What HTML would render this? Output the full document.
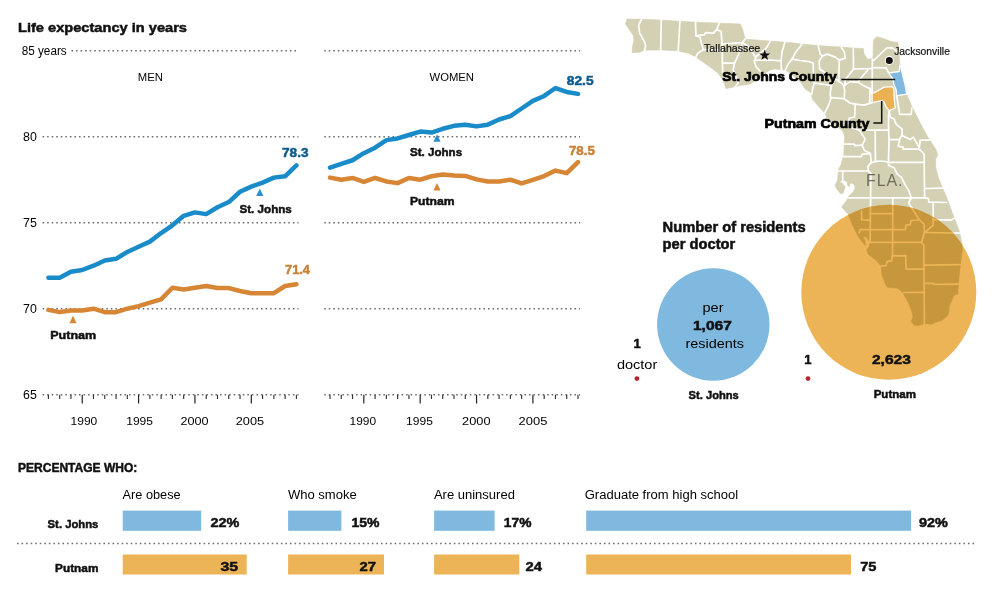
<!DOCTYPE html>
<html lang="en">
<head>
<meta charset="utf-8">
<title>Life expectancy in years: St. Johns County and Putnam County, Fla.</title>
<style>
html,body{margin:0;padding:0;background:#fff;}
body{width:1006px;height:598px;overflow:hidden;font-family:'Liberation Sans', sans-serif;}
svg{display:block;}
svg text{font-family:'Liberation Sans', sans-serif;}
</style>
</head>
<body>
<svg width="1006" height="598" viewBox="0 0 1006 598">
<rect x="0" y="0" width="1006" height="598" fill="#fff"/>
<text x="18" y="31.7" font-size="13.6" font-weight="bold" stroke="#111" stroke-width="0.5" fill="#111" textLength="169" lengthAdjust="spacingAndGlyphs">Life expectancy in years</text>
<line x1="71.5" y1="50.7" x2="298.5" y2="50.7" stroke="#6c6c6c" stroke-width="1.45" stroke-dasharray="1.55 3.0" />
<line x1="324.2" y1="50.7" x2="580" y2="50.7" stroke="#6c6c6c" stroke-width="1.45" stroke-dasharray="1.55 3.0" />
<line x1="42.6" y1="136.7" x2="298.5" y2="136.7" stroke="#6c6c6c" stroke-width="1.45" stroke-dasharray="1.55 3.0" />
<line x1="324.2" y1="136.7" x2="580" y2="136.7" stroke="#6c6c6c" stroke-width="1.45" stroke-dasharray="1.55 3.0" />
<line x1="42.6" y1="222.7" x2="298.5" y2="222.7" stroke="#6c6c6c" stroke-width="1.45" stroke-dasharray="1.55 3.0" />
<line x1="324.2" y1="222.7" x2="580" y2="222.7" stroke="#6c6c6c" stroke-width="1.45" stroke-dasharray="1.55 3.0" />
<line x1="42.6" y1="308.7" x2="298.5" y2="308.7" stroke="#6c6c6c" stroke-width="1.45" stroke-dasharray="1.55 3.0" />
<line x1="324.2" y1="308.7" x2="580" y2="308.7" stroke="#6c6c6c" stroke-width="1.45" stroke-dasharray="1.55 3.0" />
<line x1="42.6" y1="394.7" x2="298.5" y2="394.7" stroke="#6c6c6c" stroke-width="1.45" stroke-dasharray="1.55 3.0" />
<line x1="324.2" y1="394.7" x2="580" y2="394.7" stroke="#6c6c6c" stroke-width="1.45" stroke-dasharray="1.55 3.0" />
<line x1="48.4" y1="394.7" x2="48.4" y2="399" stroke="#333" stroke-width="1.15"/>
<line x1="59.67" y1="394.7" x2="59.67" y2="399" stroke="#333" stroke-width="1.15"/>
<line x1="70.95" y1="394.7" x2="70.95" y2="399" stroke="#333" stroke-width="1.15"/>
<line x1="82.22" y1="394.7" x2="82.22" y2="403.5" stroke="#222" stroke-width="1.2"/>
<text x="83.9" y="424.7" font-size="11.5" text-anchor="middle" textLength="26.7" lengthAdjust="spacingAndGlyphs">1990</text>
<line x1="93.49" y1="394.7" x2="93.49" y2="399" stroke="#333" stroke-width="1.15"/>
<line x1="104.76" y1="394.7" x2="104.76" y2="399" stroke="#333" stroke-width="1.15"/>
<line x1="116.04" y1="394.7" x2="116.04" y2="399" stroke="#333" stroke-width="1.15"/>
<line x1="127.31" y1="394.7" x2="127.31" y2="399" stroke="#333" stroke-width="1.15"/>
<line x1="138.58" y1="394.7" x2="138.58" y2="403.5" stroke="#222" stroke-width="1.2"/>
<text x="139.6" y="424.7" font-size="11.5" text-anchor="middle" textLength="26.8" lengthAdjust="spacingAndGlyphs">1995</text>
<line x1="149.86" y1="394.7" x2="149.86" y2="399" stroke="#333" stroke-width="1.15"/>
<line x1="161.13" y1="394.7" x2="161.13" y2="399" stroke="#333" stroke-width="1.15"/>
<line x1="172.4" y1="394.7" x2="172.4" y2="399" stroke="#333" stroke-width="1.15"/>
<line x1="183.68" y1="394.7" x2="183.68" y2="399" stroke="#333" stroke-width="1.15"/>
<line x1="194.95" y1="394.7" x2="194.95" y2="403.5" stroke="#222" stroke-width="1.2"/>
<text x="194.5" y="424.7" font-size="11.5" text-anchor="middle" textLength="28.1" lengthAdjust="spacingAndGlyphs">2000</text>
<line x1="206.22" y1="394.7" x2="206.22" y2="399" stroke="#333" stroke-width="1.15"/>
<line x1="217.5" y1="394.7" x2="217.5" y2="399" stroke="#333" stroke-width="1.15"/>
<line x1="228.77" y1="394.7" x2="228.77" y2="399" stroke="#333" stroke-width="1.15"/>
<line x1="240.04" y1="394.7" x2="240.04" y2="399" stroke="#333" stroke-width="1.15"/>
<line x1="251.31" y1="394.7" x2="251.31" y2="403.5" stroke="#222" stroke-width="1.2"/>
<text x="249.9" y="424.7" font-size="11.5" text-anchor="middle" textLength="28.4" lengthAdjust="spacingAndGlyphs">2005</text>
<line x1="262.59" y1="394.7" x2="262.59" y2="399" stroke="#333" stroke-width="1.15"/>
<line x1="273.86" y1="394.7" x2="273.86" y2="399" stroke="#333" stroke-width="1.15"/>
<line x1="285.13" y1="394.7" x2="285.13" y2="399" stroke="#333" stroke-width="1.15"/>
<line x1="296.41" y1="394.7" x2="296.41" y2="399" stroke="#333" stroke-width="1.15"/>
<line x1="330.0" y1="394.7" x2="330.0" y2="399" stroke="#333" stroke-width="1.15"/>
<line x1="341.27" y1="394.7" x2="341.27" y2="399" stroke="#333" stroke-width="1.15"/>
<line x1="352.55" y1="394.7" x2="352.55" y2="399" stroke="#333" stroke-width="1.15"/>
<line x1="363.82" y1="394.7" x2="363.82" y2="403.5" stroke="#222" stroke-width="1.2"/>
<text x="362.8" y="424.7" font-size="11.5" text-anchor="middle" textLength="26.5" lengthAdjust="spacingAndGlyphs">1990</text>
<line x1="375.09" y1="394.7" x2="375.09" y2="399" stroke="#333" stroke-width="1.15"/>
<line x1="386.37" y1="394.7" x2="386.37" y2="399" stroke="#333" stroke-width="1.15"/>
<line x1="397.64" y1="394.7" x2="397.64" y2="399" stroke="#333" stroke-width="1.15"/>
<line x1="408.91" y1="394.7" x2="408.91" y2="399" stroke="#333" stroke-width="1.15"/>
<line x1="420.18" y1="394.7" x2="420.18" y2="403.5" stroke="#222" stroke-width="1.2"/>
<text x="419.5" y="424.7" font-size="11.5" text-anchor="middle" textLength="26.8" lengthAdjust="spacingAndGlyphs">1995</text>
<line x1="431.46" y1="394.7" x2="431.46" y2="399" stroke="#333" stroke-width="1.15"/>
<line x1="442.73" y1="394.7" x2="442.73" y2="399" stroke="#333" stroke-width="1.15"/>
<line x1="454.0" y1="394.7" x2="454.0" y2="399" stroke="#333" stroke-width="1.15"/>
<line x1="465.28" y1="394.7" x2="465.28" y2="399" stroke="#333" stroke-width="1.15"/>
<line x1="476.55" y1="394.7" x2="476.55" y2="403.5" stroke="#222" stroke-width="1.2"/>
<text x="476.3" y="424.7" font-size="11.5" text-anchor="middle" textLength="28.4" lengthAdjust="spacingAndGlyphs">2000</text>
<line x1="487.82" y1="394.7" x2="487.82" y2="399" stroke="#333" stroke-width="1.15"/>
<line x1="499.1" y1="394.7" x2="499.1" y2="399" stroke="#333" stroke-width="1.15"/>
<line x1="510.37" y1="394.7" x2="510.37" y2="399" stroke="#333" stroke-width="1.15"/>
<line x1="521.64" y1="394.7" x2="521.64" y2="399" stroke="#333" stroke-width="1.15"/>
<line x1="532.91" y1="394.7" x2="532.91" y2="403.5" stroke="#222" stroke-width="1.2"/>
<text x="533.0" y="424.7" font-size="11.5" text-anchor="middle" textLength="28.8" lengthAdjust="spacingAndGlyphs">2005</text>
<line x1="544.19" y1="394.7" x2="544.19" y2="399" stroke="#333" stroke-width="1.15"/>
<line x1="555.46" y1="394.7" x2="555.46" y2="399" stroke="#333" stroke-width="1.15"/>
<line x1="566.73" y1="394.7" x2="566.73" y2="399" stroke="#333" stroke-width="1.15"/>
<line x1="578.01" y1="394.7" x2="578.01" y2="399" stroke="#333" stroke-width="1.15"/>
<text x="21.7" y="55.1" font-size="12" textLength="45" lengthAdjust="spacingAndGlyphs">85 years</text>
<text x="23" y="140.8" font-size="12" textLength="13.8" lengthAdjust="spacingAndGlyphs">80</text>
<text x="23" y="226.8" font-size="12" textLength="13.8" lengthAdjust="spacingAndGlyphs">75</text>
<text x="23" y="312.8" font-size="12" textLength="13.8" lengthAdjust="spacingAndGlyphs">70</text>
<text x="23" y="398.8" font-size="12" textLength="13.8" lengthAdjust="spacingAndGlyphs">65</text>
<text x="137.8" y="81.2" font-size="11" textLength="25.1" lengthAdjust="spacingAndGlyphs">MEN</text>
<text x="429.5" y="80.9" font-size="11" textLength="44.5" lengthAdjust="spacingAndGlyphs">WOMEN</text>
<polyline points="48.4,309.9 59.7,312.14 70.9,310.42 82.2,310.42 93.5,308.7 104.8,312.14 116.0,312.14 127.3,308.7 138.6,306.12 149.9,302.68 161.1,299.41 172.4,287.72 183.7,289.44 194.9,287.72 206.2,286.0 217.5,288.06 228.8,288.06 240.0,290.98 251.3,293.22 262.6,293.22 273.9,293.22 285.1,286.0 296.4,284.28" fill="none" stroke="#d68634" stroke-width="4.5" stroke-linejoin="round" stroke-linecap="round"/>
<polyline points="48.4,277.74 59.7,277.74 70.9,271.72 82.2,270.0 93.5,265.7 104.8,260.54 116.0,258.82 127.3,251.94 138.6,246.78 149.9,241.62 161.1,233.02 172.4,225.28 183.7,215.82 194.9,212.38 206.2,214.1 217.5,207.22 228.8,202.06 240.0,191.74 251.3,186.58 262.6,182.62 273.9,177.64 285.1,176.26 296.4,165.42" fill="none" stroke="#1a8bc9" stroke-width="4.5" stroke-linejoin="round" stroke-linecap="round"/>
<polyline points="330.0,177.64 341.3,179.7 352.5,177.98 363.8,181.94 375.1,177.98 386.4,181.42 397.6,183.14 408.9,177.98 420.2,179.7 431.5,176.26 442.7,174.54 454.0,175.4 465.3,175.92 476.5,179.36 487.8,181.42 499.1,181.42 510.4,179.7 521.6,183.48 532.9,179.87 544.2,176.09 555.5,170.58 566.7,173.16 578.0,162.16" fill="none" stroke="#d68634" stroke-width="4.5" stroke-linejoin="round" stroke-linecap="round"/>
<polyline points="330.0,167.66 341.3,163.88 352.5,160.26 363.8,153.21 375.1,147.71 386.4,140.14 397.6,138.42 408.9,134.98 420.2,131.54 431.5,132.57 442.7,128.79 454.0,125.86 465.3,124.66 476.5,126.38 487.8,124.66 499.1,119.5 510.4,116.06 521.6,108.49 532.9,100.92 544.2,95.94 555.5,88.02 566.7,91.98 578.0,93.87" fill="none" stroke="#1a8bc9" stroke-width="4.5" stroke-linejoin="round" stroke-linecap="round"/>
<text x="282" y="156.9" font-size="12.5" font-weight="bold" stroke="#0f5b8d" stroke-width="0.5" fill="#0f5b8d" textLength="26.5" lengthAdjust="spacingAndGlyphs">78.3</text>
<text x="285" y="274.4" font-size="12.5" font-weight="bold" stroke="#cb8136" stroke-width="0.5" fill="#cb8136" textLength="25" lengthAdjust="spacingAndGlyphs">71.4</text>
<polygon points="259.8,188.5 256.2,196.0 263.40000000000003,196.0" fill="#2a8fca"/>
<text x="239.5" y="212.8" font-size="11.5" font-weight="bold" stroke="#111" stroke-width="0.5" fill="#111" textLength="52.3" lengthAdjust="spacingAndGlyphs">St. Johns</text>
<polygon points="73,315.7 69.4,323.2 76.6,323.2" fill="#d68634"/>
<text x="50.2" y="338.5" font-size="11.5" font-weight="bold" stroke="#111" stroke-width="0.5" fill="#111" textLength="46" lengthAdjust="spacingAndGlyphs">Putnam</text>
<text x="566.8" y="84.6" font-size="12.5" font-weight="bold" stroke="#0f5b8d" stroke-width="0.5" fill="#0f5b8d" textLength="26.8" lengthAdjust="spacingAndGlyphs">82.5</text>
<text x="569" y="154.5" font-size="12.5" font-weight="bold" stroke="#cb8136" stroke-width="0.5" fill="#cb8136" textLength="25.8" lengthAdjust="spacingAndGlyphs">78.5</text>
<polygon points="437,134.2 433.4,141.7 440.6,141.7" fill="#2a8fca"/>
<text x="410" y="156" font-size="11.5" font-weight="bold" stroke="#111" stroke-width="0.5" fill="#111" textLength="52.1" lengthAdjust="spacingAndGlyphs">St. Johns</text>
<polygon points="437,183 433.4,190.5 440.6,190.5" fill="#d68634"/>
<text x="410" y="204.5" font-size="11.5" font-weight="bold" stroke="#111" stroke-width="0.5" fill="#111" textLength="44.6" lengthAdjust="spacingAndGlyphs">Putnam</text>
<g id="map">
<polygon points="627,19 641.6,19.2 660.2,20 679.2,21.2 695.3,22.2 717.1,23 740.2,24 742.2,28 745.2,39.1 770.3,41.1 790.4,42.6 802.1,44.1 818.2,45.6 841.3,47.1 853.3,48.1 863.4,48.5 864.2,54.3 867.6,59.3 871.8,58.6 873,57 873.4,40 876.8,36.7 883.5,38.4 890.2,41.3 898.1,42.6 898.5,46.7 899.4,58.4 899.8,65.1 900,66 901.2,69 905.2,85.1 906.7,94.1 911.3,105.2 914.2,111 920.2,123.1 927.2,136.1 931.2,142.1 936.3,150.2 937.8,155.2 935.7,159 935.7,167.1 938.2,177.1 942.2,187.1 945.7,195 950.2,207 954.3,218.1 959.3,231.1 961.8,242.2 962.3,250 960.2,266.7 958.6,280 957.8,294.1 954.3,295.1 952.3,299.1 949.3,306.1 948.2,315.1 942.2,320.2 937.2,321.7 931.2,324.2 924.2,323.7 919.1,325.2 914.1,325.2 911.1,321.2 913.1,317.1 912.1,312.1 908.1,302.1 903.1,293.1 900,290 897.2,288.2 891,287.6 887.1,287.2 885.1,283.2 882.1,275.2 881.1,266.1 876.1,260.1 871,256.5 868.1,254.1 866.8,249.5 869.2,247 870,242.2 867.3,238.2 865,236.5 863.3,237.2 865.2,241.5 865.3,245.6 860.1,239.2 857.1,234.2 852,224.1 848,214 846,212 841.5,207 847,200 848.4,196.4 853.1,192.1 855.1,188.1 854.4,184.7 851.7,183.1 849.7,184.1 849.4,186.7 847.7,185.4 847.1,182.1 845.1,180.7 842.7,180.1 839.4,181.4 842.4,183.4 845.1,186.7 844.4,190.1 843,193.4 840.4,193.4 837,189.4 835,185.4 837.7,180 838.4,170 841.1,164.2 843.7,155.2 844.2,144.1 844.7,136.1 842.1,130.1 834,125 827.4,120 825.4,114.2 819.3,107.2 812.3,99.2 811.3,93.1 805.3,89.1 801.3,83.1 796,78 790,73 785,70 775,69 770,70 764,74 757,80 750,84 740.2,85.6 733.1,87.1 726.1,88.7 723,80.1 718,73.1 710,67.1 703.3,62.2 695.3,56.7 688.3,53.2 677.2,50.7 660.2,50 644,50.2 640,52.2 632,52.7 632.6,46.1 634,40.1 633,35.1 625.5,24" fill="#d4d0b3" stroke="#d4d0b3" stroke-width="0.6" stroke-linejoin="round"/>
<g fill="none" stroke="#fff" stroke-width="1.7" stroke-linejoin="round" stroke-linecap="round">
<polyline points="641.6,19.2 638.6,25.1 639.6,33.1 644.1,41.1 645.6,46.1 644.6,50.2"/>
<polyline points="661.2,20 660.7,50"/>
<polyline points="679.9,21.2 678.2,50.7"/>
<polyline points="695.5,22.2 696,35.6 700.3,37.6 701.3,43.1 703.3,49.6 697.8,53.2 695.8,57.2"/>
<polyline points="696,35.6 704.3,34.8 705.8,32.6 713.4,33.1 716.9,29.3 719,23.5"/>
<polyline points="716.6,29.5 721.1,31.5 722.1,44.1 722.6,72.2"/>
<polyline points="722.1,44.1 742.2,42.6 745.2,39.1"/>
<polyline points="703.3,49.6 722.3,50"/>
<polyline points="742.2,42.6 739.2,53.1 734.5,63.2 733.1,70 736,76 738.2,83.1 735.1,87.1"/>
<polyline points="722.6,63.2 734.5,63.2"/>
<polyline points="742.2,42.6 748,46 752,52 755.5,57"/>
<polyline points="770.3,41.1 766.3,48.1 760.3,53.1 756.2,56.5 754.2,61 756.2,67.1 760.2,71.1 764,74"/>
<polyline points="755.3,60.2 770,60 781,60.8"/>
<polyline points="785,42 782,52.1 781,60.8 781.4,69.6"/>
<polyline points="802.1,44.1 795.1,53.1 792.1,59.1 788.2,64 785.4,70"/>
<polyline points="792.1,59.1 800,60.5 809.1,61.6 813.3,63.1"/>
<polyline points="818.2,45.6 820.2,54.1 822.2,56.1"/>
<polyline points="822.2,56.1 827.2,54.1 835.2,57.1 839.3,60.1 845.3,58.1 844.3,52.1 841.3,47.1"/>
<polyline points="822.2,56.1 819.2,61.1 819.6,69 824.1,72 830,75.5 837.2,80.1 843.2,84.6 844.7,90.1 844.2,98.7"/>
<polyline points="813.3,63.1 813.3,70 814.3,83.1 812.3,90.1 811.8,94.1"/>
<polyline points="814.3,83.1 831.4,85.4"/>
<polyline points="835.5,79 831.4,85.4 830.2,93.1 830.7,99.2 828.2,106.2 824.6,113.2"/>
<polyline points="830.7,97.7 844.2,98.7 850.2,103.2 855.1,104.2 854.7,117 849.5,118 848,124 852,128 859.2,130.1"/>
<polyline points="839.3,60.1 838.7,80.1"/>
<polyline points="853.3,48.1 853.5,69"/>
<polyline points="853.5,69 871.6,68.6"/>
<polyline points="872.4,58.6 872.1,93.6"/>
<polyline points="853.5,69 849,75 845.5,79 844.7,85.1"/>
<polyline points="867.6,70.2 860.1,79.1 858,82.3"/>
<polyline points="844.7,85.1 850.2,81.6 858.3,82.4 864.3,86.1 870.3,88.6 872.1,93.6"/>
<polyline points="870.1,88.6 869.6,103.2 864.2,105.2 855.1,104.2"/>
<polyline points="864.2,105.2 872.1,102.7"/>
<polyline points="873,61 886.8,48 891.8,47.6 895.2,50.1 898.4,51.5"/>
<polyline points="872.3,67.6 886.1,67.8 888.7,73"/>
<polyline points="896.7,95.6 899.7,114.3 911.3,114.3 911.8,108"/>
<polyline points="889.2,110.7 888.6,115 888.6,130.1 859.2,130.1"/>
<polyline points="889.2,110.7 890.1,117 894.1,119.1 896.1,124.1 902.1,129.1 902.1,135.1 900.1,138.1 898.1,146.2 903.1,147.2 903.1,149.2 919.2,149.2"/>
<polyline points="902.1,135.6 910.2,139.6 913.2,137.1 919.2,147.2"/>
<polyline points="919.2,149.2 920.2,140.1 929.5,140.1"/>
<polyline points="919.2,149.2 924.1,154 924.6,197.8"/>
<polyline points="888.6,130.1 889.1,140.1 888.4,162.4"/>
<polyline points="889.1,139.6 898.6,139.6"/>
<polyline points="875.2,130.5 875.4,161.4"/>
<polyline points="859.2,130.1 865.2,139.1 862.2,145.1 864.2,150.2 870.3,153.4 871.3,162.2 867.8,166.7 868.4,171"/>
<polyline points="844.2,144.1 854.2,144.1 854.7,145.6 862.2,145.1"/>
<polyline points="843.7,156.7 861.2,156.7 862.2,154.2 870.3,153.6"/>
<polyline points="838.4,171 868.4,171"/>
<polyline points="842.7,171 842.7,180.1"/>
<polyline points="867.8,166.7 870.5,163.3 875.8,161.3 881.8,161 888.4,162 888.6,165.3 894.3,168.1 897.3,174.1 901.3,177.1 905.3,185.1 908.5,190.1 911.4,197.8 908.6,203 910.6,206 919.2,219.6 924,224.1 924.5,232.3"/>
<polyline points="888.4,162.4 924.6,162.4"/>
<polyline points="868.4,171 870.8,173.4 870.6,198 870.1,242.4"/>
<polyline points="848,197.8 924.6,197.8 928.4,198.5 928.9,202.2 946.5,202.5"/>
<polyline points="924.6,188.5 942.6,188.2"/>
<polyline points="933.2,202.3 933.2,219.6 951.2,220.1 954.3,218.1"/>
<polyline points="933.2,219.6 933.2,225.1 925.1,232.3"/>
<polyline points="924.5,232.5 959.6,233.1"/>
<polyline points="892.8,197.8 892.6,255.8"/>
<polyline points="870.1,213.6 892.7,213.6"/>
<polyline points="861.6,211 861.6,219.8 870.1,220.1"/>
<polyline points="859.3,233 860.1,229.6 905.4,229.6 905.9,225.1 910.4,224.7 910.9,220.5 919.5,220"/>
<polyline points="870.1,242.4 921.5,242.4"/>
<polyline points="924.5,232.3 923.6,235.2 921.5,242.4 923.8,245 924.4,324"/>
<polyline points="892.6,255.8 905.7,255.6 906.2,269.1 924.2,269.1"/>
<polyline points="892.4,256 891.7,260.6 887.1,261.6 886.1,265.6 881.1,266.1"/>
<polyline points="924.3,265.1 960.2,264.6"/>
<polyline points="924.3,283.3 933.3,283.3 934,284.3 958.3,284.1"/>
<polyline points="903.1,292.5 924.3,292.4"/>
</g>
<polygon points="888.7,73 899.2,71.5 899.6,66.5 900.2,65.5 901.2,69 905.2,85.1 906.7,94.1 896.7,95.6 896.2,90.1 893.7,84.1 893.2,79.1 890.7,76" fill="#7fb9df" stroke="#fff" stroke-width="1.3" stroke-linejoin="round"/>
<polygon points="872.1,93.6 877.1,91.1 884.2,87.1 892.2,86.6 894,89.1 894.2,98.1 895.2,108.2 889.2,110.7 886.2,107.2 883.7,101.6 881.6,100.6 872.1,102.7" fill="#ebb254" stroke="#fff" stroke-width="1.3" stroke-linejoin="round"/>
<defs><clipPath id="bigc"><circle cx="888.8" cy="292.3" r="87.5"/></clipPath></defs>
<circle cx="888.8" cy="292.3" r="87.5" fill="#ecb457"/>
<g clip-path="url(#bigc)">
<polygon points="627,19 641.6,19.2 660.2,20 679.2,21.2 695.3,22.2 717.1,23 740.2,24 742.2,28 745.2,39.1 770.3,41.1 790.4,42.6 802.1,44.1 818.2,45.6 841.3,47.1 853.3,48.1 863.4,48.5 864.2,54.3 867.6,59.3 871.8,58.6 873,57 873.4,40 876.8,36.7 883.5,38.4 890.2,41.3 898.1,42.6 898.5,46.7 899.4,58.4 899.8,65.1 900,66 901.2,69 905.2,85.1 906.7,94.1 911.3,105.2 914.2,111 920.2,123.1 927.2,136.1 931.2,142.1 936.3,150.2 937.8,155.2 935.7,159 935.7,167.1 938.2,177.1 942.2,187.1 945.7,195 950.2,207 954.3,218.1 959.3,231.1 961.8,242.2 962.3,250 960.2,266.7 958.6,280 957.8,294.1 954.3,295.1 952.3,299.1 949.3,306.1 948.2,315.1 942.2,320.2 937.2,321.7 931.2,324.2 924.2,323.7 919.1,325.2 914.1,325.2 911.1,321.2 913.1,317.1 912.1,312.1 908.1,302.1 903.1,293.1 900,290 897.2,288.2 891,287.6 887.1,287.2 885.1,283.2 882.1,275.2 881.1,266.1 876.1,260.1 871,256.5 868.1,254.1 866.8,249.5 869.2,247 870,242.2 867.3,238.2 865,236.5 863.3,237.2 865.2,241.5 865.3,245.6 860.1,239.2 857.1,234.2 852,224.1 848,214 846,212 841.5,207 847,200 848.4,196.4 853.1,192.1 855.1,188.1 854.4,184.7 851.7,183.1 849.7,184.1 849.4,186.7 847.7,185.4 847.1,182.1 845.1,180.7 842.7,180.1 839.4,181.4 842.4,183.4 845.1,186.7 844.4,190.1 843,193.4 840.4,193.4 837,189.4 835,185.4 837.7,180 838.4,170 841.1,164.2 843.7,155.2 844.2,144.1 844.7,136.1 842.1,130.1 834,125 827.4,120 825.4,114.2 819.3,107.2 812.3,99.2 811.3,93.1 805.3,89.1 801.3,83.1 796,78 790,73 785,70 775,69 770,70 764,74 757,80 750,84 740.2,85.6 733.1,87.1 726.1,88.7 723,80.1 718,73.1 710,67.1 703.3,62.2 695.3,56.7 688.3,53.2 677.2,50.7 660.2,50 644,50.2 640,52.2 632,52.7 632.6,46.1 634,40.1 633,35.1 625.5,24" fill="#c6973c" stroke="#c6973c" stroke-width="0.6" stroke-linejoin="round"/>
<g fill="none" stroke="#ecb457" stroke-width="1.7" stroke-linejoin="round" stroke-linecap="round">
<polyline points="867.8,166.7 870.5,163.3 875.8,161.3 881.8,161 888.4,162 888.6,165.3 894.3,168.1 897.3,174.1 901.3,177.1 905.3,185.1 908.5,190.1 911.4,197.8 908.6,203 910.6,206 919.2,219.6 924,224.1 924.5,232.3"/>
<polyline points="868.4,171 870.8,173.4 870.6,198 870.1,242.4"/>
<polyline points="848,197.8 924.6,197.8 928.4,198.5 928.9,202.2 946.5,202.5"/>
<polyline points="933.2,202.3 933.2,219.6 951.2,220.1 954.3,218.1"/>
<polyline points="933.2,219.6 933.2,225.1 925.1,232.3"/>
<polyline points="924.5,232.5 959.6,233.1"/>
<polyline points="892.8,197.8 892.6,255.8"/>
<polyline points="870.1,213.6 892.7,213.6"/>
<polyline points="861.6,211 861.6,219.8 870.1,220.1"/>
<polyline points="859.3,233 860.1,229.6 905.4,229.6 905.9,225.1 910.4,224.7 910.9,220.5 919.5,220"/>
<polyline points="870.1,242.4 921.5,242.4"/>
<polyline points="924.5,232.3 923.6,235.2 921.5,242.4 923.8,245 924.4,324"/>
<polyline points="892.6,255.8 905.7,255.6 906.2,269.1 924.2,269.1"/>
<polyline points="892.4,256 891.7,260.6 887.1,261.6 886.1,265.6 881.1,266.1"/>
<polyline points="924.3,265.1 960.2,264.6"/>
<polyline points="924.3,283.3 933.3,283.3 934,284.3 958.3,284.1"/>
<polyline points="903.1,292.5 924.3,292.4"/>
</g></g>
<path d="M841.3 79.4H895.2" stroke="#111" stroke-width="1.5" fill="none"/>
<path d="M881.7 101V123H873.4" stroke="#111" stroke-width="1.5" fill="none"/>
<circle cx="889.3" cy="60.5" r="4.1" fill="#111" stroke="#fff" stroke-width="1.1"/>
<polygon points="764.7,49.5 766.05,53.44 770.22,53.51 766.89,56.01 768.11,59.99 764.7,57.6 761.29,59.99 762.51,56.01 759.18,53.51 763.35,53.44" fill="#111"/>
<text x="704" y="51.9" font-size="10.5" fill="#111" stroke="#111" stroke-width="0.2" textLength="56.3" lengthAdjust="spacingAndGlyphs">Tallahassee</text>
<text x="894.2" y="54.9" font-size="10.5" fill="#111" stroke="#111" stroke-width="0.2" textLength="55.7" lengthAdjust="spacingAndGlyphs">Jacksonville</text>
<text x="722.3" y="81.3" font-size="13.5" font-weight="bold" fill="#000" stroke="#000" stroke-width="0.7" textLength="114.4" lengthAdjust="spacingAndGlyphs">St. Johns County</text>
<text x="764.6" y="127.9" font-size="13.5" font-weight="bold" fill="#000" stroke="#000" stroke-width="0.7" textLength="104.7" lengthAdjust="spacingAndGlyphs">Putnam County</text>
<text x="866" y="185.7" font-size="16" fill="#6e6e60" textLength="36.5" lengthAdjust="spacing">FLA.</text>
</g>
<circle cx="713.3" cy="324.5" r="56.2" fill="#7fb9df"/>
<text x="662.6" y="231.6" font-size="14" font-weight="bold" stroke="#111" stroke-width="0.5" fill="#111" textLength="143" lengthAdjust="spacingAndGlyphs">Number of residents</text>
<text x="662.6" y="249.2" font-size="14" font-weight="bold" stroke="#111" stroke-width="0.5" fill="#111" textLength="72.7" lengthAdjust="spacingAndGlyphs">per doctor</text>
<text x="713" y="312" font-size="13.6" text-anchor="middle" textLength="21" lengthAdjust="spacingAndGlyphs">per</text>
<text x="712.4" y="330" font-size="13" font-weight="bold" stroke="#111" stroke-width="0.5" fill="#111" text-anchor="middle" textLength="38.8" lengthAdjust="spacingAndGlyphs">1,067</text>
<text x="714.7" y="347.6" font-size="13.6" text-anchor="middle" textLength="58.6" lengthAdjust="spacingAndGlyphs">residents</text>
<text x="637.2" y="347.6" font-size="13" font-weight="bold" stroke="#111" stroke-width="0.5" fill="#111" text-anchor="middle">1</text>
<text x="637.1" y="368.8" font-size="13.6" text-anchor="middle" textLength="40.4" lengthAdjust="spacingAndGlyphs">doctor</text>
<circle cx="636.9" cy="378.6" r="2.4" fill="#b3272d"/>
<text x="713.7" y="398.6" font-size="11.5" font-weight="bold" stroke="#111" stroke-width="0.5" fill="#111" text-anchor="middle" textLength="50.2" lengthAdjust="spacingAndGlyphs">St. Johns</text>
<text x="807.8" y="364.1" font-size="13" font-weight="bold" stroke="#111" stroke-width="0.5" fill="#111" text-anchor="middle">1</text>
<circle cx="808" cy="378.6" r="2.4" fill="#b3272d"/>
<text x="891.4" y="364.2" font-size="13" font-weight="bold" stroke="#111" stroke-width="0.5" fill="#111" text-anchor="middle" textLength="38.9" lengthAdjust="spacingAndGlyphs">2,623</text>
<text x="894.8" y="398.2" font-size="11.5" font-weight="bold" stroke="#111" stroke-width="0.5" fill="#111" text-anchor="middle" textLength="42.3" lengthAdjust="spacingAndGlyphs">Putnam</text>
<text x="18" y="472" font-size="13" font-weight="bold" stroke="#111" stroke-width="0.5" fill="#111" textLength="119.3" lengthAdjust="spacingAndGlyphs">PERCENTAGE WHO:</text>
<line x1="17" y1="543.4" x2="976" y2="543.4" stroke="#6c6c6c" stroke-width="1.45" stroke-dasharray="1.55 3.0" />
<text x="98.4" y="528.4" font-size="11.5" font-weight="bold" stroke="#111" stroke-width="0.5" fill="#111" text-anchor="end" textLength="50.8" lengthAdjust="spacingAndGlyphs">St. Johns</text>
<text x="98.4" y="572" font-size="11.5" font-weight="bold" stroke="#111" stroke-width="0.5" fill="#111" text-anchor="end" textLength="43.3" lengthAdjust="spacingAndGlyphs">Putnam</text>
<text x="122.5" y="498.8" font-size="12" textLength="58.2" lengthAdjust="spacingAndGlyphs">Are obese</text>
<rect x="122.7" y="510.6" width="78.5" height="20.2" fill="#7fb9df"/>
<rect x="122.7" y="554.5" width="124.0" height="20" fill="#ecb457"/>
<text x="210.4" y="527.2" font-size="13" font-weight="bold" stroke="#111" stroke-width="0.5" fill="#111" textLength="28.8" lengthAdjust="spacingAndGlyphs">22%</text>
<text x="220.4" y="571" font-size="13" font-weight="bold" stroke="#111" stroke-width="0.5" fill="#111" textLength="17.6" lengthAdjust="spacingAndGlyphs">35</text>
<text x="287.90000000000003" y="498.8" font-size="12" textLength="68.9" lengthAdjust="spacingAndGlyphs">Who smoke</text>
<rect x="288.1" y="510.6" width="53.3" height="20.2" fill="#7fb9df"/>
<rect x="288.1" y="554.5" width="95.9" height="20" fill="#ecb457"/>
<text x="351.5" y="527.2" font-size="13" font-weight="bold" stroke="#111" stroke-width="0.5" fill="#111" textLength="28" lengthAdjust="spacingAndGlyphs">15%</text>
<text x="359.5" y="571" font-size="13" font-weight="bold" stroke="#111" stroke-width="0.5" fill="#111" textLength="16.5" lengthAdjust="spacingAndGlyphs">27</text>
<text x="433.90000000000003" y="498.8" font-size="12" textLength="81" lengthAdjust="spacingAndGlyphs">Are uninsured</text>
<rect x="434.1" y="510.6" width="60.5" height="20.2" fill="#7fb9df"/>
<rect x="434.1" y="554.5" width="85.2" height="20" fill="#ecb457"/>
<text x="503.8" y="527.2" font-size="13" font-weight="bold" stroke="#111" stroke-width="0.5" fill="#111" textLength="27.6" lengthAdjust="spacingAndGlyphs">17%</text>
<text x="525.6" y="571" font-size="13" font-weight="bold" stroke="#111" stroke-width="0.5" fill="#111" textLength="16.5" lengthAdjust="spacingAndGlyphs">24</text>
<text x="584.7" y="498.8" font-size="12" textLength="153.5" lengthAdjust="spacingAndGlyphs">Graduate from high school</text>
<rect x="586.2" y="510.6" width="324.9" height="20.2" fill="#7fb9df"/>
<rect x="586.2" y="554.5" width="264.8" height="20" fill="#ecb457"/>
<text x="919.1" y="527.2" font-size="13" font-weight="bold" stroke="#111" stroke-width="0.5" fill="#111" textLength="28.8" lengthAdjust="spacingAndGlyphs">92%</text>
<text x="860.2" y="571" font-size="13" font-weight="bold" stroke="#111" stroke-width="0.5" fill="#111" textLength="16.3" lengthAdjust="spacingAndGlyphs">75</text>
</svg>
</body>
</html>
